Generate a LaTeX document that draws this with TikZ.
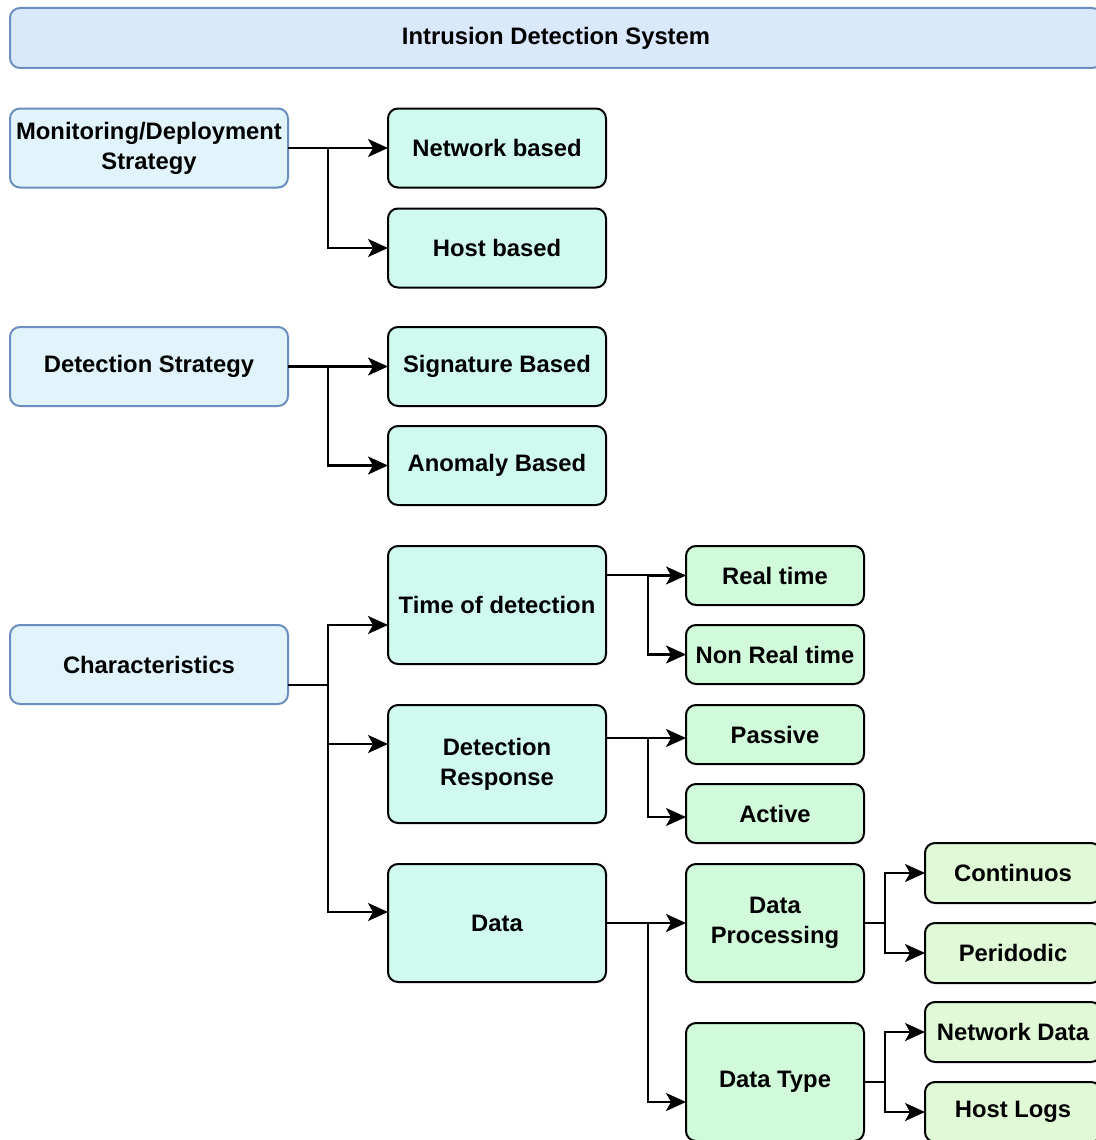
\documentclass[tikz,border=0pt]{standalone}
\usepackage{fontspec}
\setmainfont{Liberation Sans}
\usetikzlibrary{arrows.meta,positioning}
\definecolor{titlefill}{HTML}{DAE8FC}
\definecolor{bluedraw}{HTML}{6C8EBF}
\definecolor{catfill}{HTML}{E1F4FC}
\definecolor{mintfill}{HTML}{D0FAF0}
\definecolor{greenfill}{HTML}{D0FADA}
\definecolor{palefill}{HTML}{E0FAD8}

\begin{document}
\begin{tikzpicture}[x=1pt,y=-1pt,
        font=\fontsize{23.8}{30}\selectfont\bfseries,
        box/.style={draw, rounded corners=10pt, line width=2pt, align=center, inner sep=2pt, outer sep=0pt},
        titlebox/.style={box, draw=bluedraw, fill=titlefill, minimum width=1092pt, minimum height=60pt},
        catbox/.style={box, draw=bluedraw, fill=catfill, minimum width=278pt, minimum height=79pt},
        kindbox/.style={box, fill=mintfill, minimum width=218pt, minimum height=79pt},
        tallbox/.style={kindbox, minimum height=118pt},
        subbox/.style={box, fill=greenfill, minimum width=178pt, minimum height=59pt},
        itembox/.style={box, fill=palefill, minimum width=176pt, minimum height=60pt},
        link/.style={line width=2.2pt, -{Stealth[length=20pt,width=18pt,inset=5pt]}}]
        \useasboundingbox (0,0) rectangle (1095,1140);

        % Title
        \node[titlebox] (ids) at (556,38) {Intrusion Detection System};

        % Left column
        \node[catbox] (mds) at (149,148) {Monitoring/Deployment\\Strategy};
        \node[catbox] (ds) at (149,366.5) {Detection Strategy};
        \node[catbox] (char) at (149,664.5) {Characteristics};

        % Monitoring / deployment
        \node[kindbox, right=100pt of mds] (netb) {Network based};
        \node[kindbox, below=21pt of netb] (hostb) {Host based};

        % Detection strategy
        \node[kindbox, right=100pt of ds] (sig) {Signature Based};
        \node[kindbox, below=20pt of sig] (anom) {Anomaly Based};

        % Characteristics
        \node[tallbox] (tod) at (497,605) {Time of detection};
        \node[tallbox, below=41pt of tod] (detr) {Detection\\Response};
        \node[tallbox, below=41pt of detr] (data) {Data};

        \node[subbox] (rt) at (775,575.5) {Real time};
        \node[subbox, below=20pt of rt] (nrt) {Non Real time};
        \node[subbox] (pas) at (775,734.5) {Passive};
        \node[subbox, below=20pt of pas] (act) {Active};
        \node[subbox, minimum height=118pt, right=80pt of data] (dp) {Data\\Processing};
        \node[subbox, minimum height=118pt, below=41pt of dp] (dt) {Data Type};

        % Data leaves
        \node[itembox] (cont) at (1013,873) {Continuos};
        \node[itembox, below=20pt of cont] (peri) {Peridodic};
        \node[itembox, below=19pt of peri] (netd) {Network Data};
        \node[itembox, below=20pt of netd] (hlog) {Host Logs};

        % Arrows
        \draw[link] (mds.east) -- ++(40,0) |- (netb);
        \draw[link] (mds.east) -- ++(40,0) |- (hostb);
        \draw[link] (ds.east) -- ++(40,0) |- (sig);
        \draw[link] (ds.east) -- ++(40,0) |- (anom);

        \draw[link] ([yshift=-20.5pt]char.east) -- ++(40,0) |- ([yshift=-20pt]tod.west);
        \draw[link] ([yshift=-20.5pt]char.east) -- ++(40,0) |- ([yshift=20pt]detr.west);
        \draw[link] ([yshift=-20.5pt]char.east) -- ++(40,0) |- ([yshift=11pt]data.west);

        \draw[link] ([yshift=30pt]tod.east) -- ++(42,0) |- (rt);
        \draw[link] ([yshift=30pt]tod.east) -- ++(42,0) |- (nrt);
        \draw[link] ([yshift=26pt]detr.east) -- ++(42,0) |- ([yshift=-3.5pt]pas.west);
        \draw[link] ([yshift=26pt]detr.east) -- ++(42,0) |- ([yshift=-3.5pt]act.west);
        \draw[link] (data.east) -- ++(42,0) |- (dp);
        \draw[link] (data.east) -- ++(42,0) |- ([yshift=-20pt]dt.west);

        \draw[link] (dp.east) -- ++(21,0) |- (cont);
        \draw[link] (dp.east) -- ++(21,0) |- (peri);
        \draw[link] (dt.east) -- ++(21,0) |- (netd);
        \draw[link] (dt.east) -- ++(21,0) |- (hlog);
\end{tikzpicture}
\end{document}
